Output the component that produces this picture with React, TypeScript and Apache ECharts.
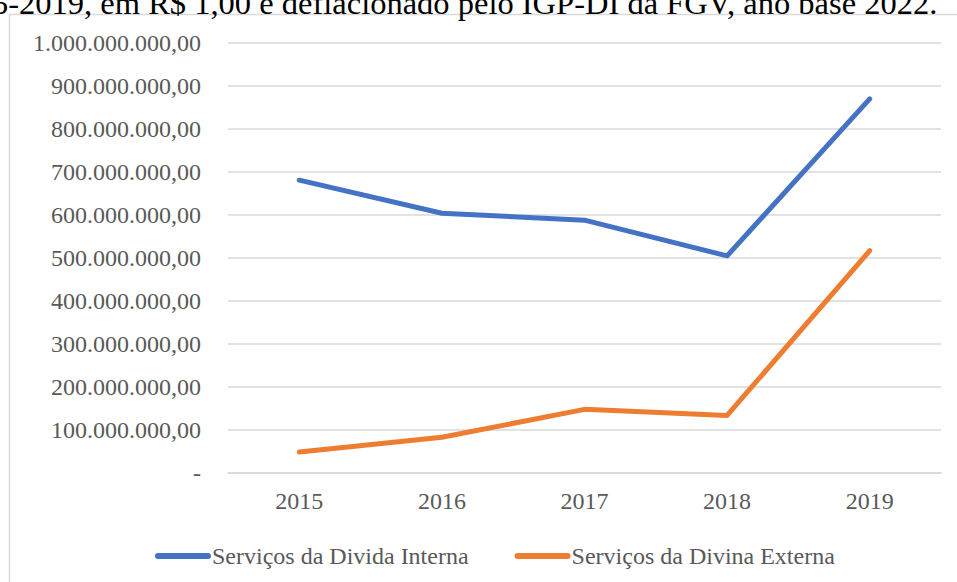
import React, { useEffect, useRef } from "react";
import * as echarts from "echarts";

const categories = ["2015", "2016", "2017", "2018", "2019"];
const internaName = "Serviços da Divida Interna";
const externaName = "Serviços da Divina Externa";
const interna = [681000000, 604000000, 588000000, 505000000, 870000000];
const externa = [49000000, 83000000, 148000000, 134000000, 517000000];
const titleText = "5-2019, em R$ 1,00 e deflacionado pelo IGP-DI da FGV, ano base 2022.";

const FONT = "'Liberation Serif', 'Times New Roman', serif";

function fmt(v: number): string {
  if (v === 0) return "-";
  const s = Math.round(v).toString().replace(/\B(?=(\d{3})+(?!\d))/g, ".");
  return s + ",00";
}

export default function App() {
  const ref = useRef<HTMLDivElement>(null);
  useEffect(() => {
    if (!ref.current) return;
    const chart = echarts.init(ref.current, undefined, { renderer: "svg" });
    chart.setOption({
      animation: false,
      backgroundColor: "#ffffff",
      graphic: [
        {
          type: "rect",
          shape: { x: 9.5, y: 14.5, width: 1000, height: 1000 },
          style: { fill: "none", stroke: "#d9d9d9", lineWidth: 1.5 },
          silent: true,
        },
        {
          type: "text",
          x: -8,
          y: 19,
          style: {
            text: titleText,
            font: `32.5px ${FONT}`,
            fill: "#000000",
            verticalAlign: "bottom",
          },
        },
      ],
      grid: { left: 228, right: 16, top: 43, bottom: 109, containLabel: false },
      legend: {
        left: 150,
        top: 539,
        itemWidth: 56,
        itemHeight: 6,
        itemGap: 46,
        icon: "path://M3,0 L53,0 A3,3 0 0 1 53,6 L3,6 A3,3 0 0 1 3,0 Z",
        textStyle: { fontFamily: FONT, fontSize: 24, color: "#595959", padding: [0, 0, 0, -4] },
        data: [internaName, externaName],
      },
      xAxis: {
        type: "category",
        data: categories,
        boundaryGap: true,
        axisLine: { show: true, lineStyle: { color: "#d9d9d9", width: 1.5 } },
        axisTick: { show: false },
        axisLabel: { fontFamily: FONT, fontSize: 24, color: "#595959", margin: 16 },
      },
      yAxis: {
        type: "value",
        min: 0,
        max: 1000000000,
        interval: 100000000,
        axisLine: { show: false },
        axisTick: { show: false },
        splitLine: { lineStyle: { color: "#d9d9d9", width: 1.5 } },
        axisLabel: {
          fontFamily: FONT,
          fontSize: 24,
          color: "#595959",
          margin: 27,
          formatter: (v: number) => fmt(v),
        },
      },
      series: [
        {
          name: internaName,
          type: "line",
          data: interna,
          symbol: "none",
          color: "#4472C4",
          lineStyle: { width: 5, color: "#4472C4", cap: "round", join: "round" },
        },
        {
          name: externaName,
          type: "line",
          data: externa,
          symbol: "none",
          color: "#ED7D31",
          lineStyle: { width: 5, color: "#ED7D31", cap: "round", join: "round" },
        },
      ],
    });
    return () => chart.dispose();
  }, []);
  return (
    <div
      ref={ref}
      style={{ position: "absolute", left: 0, top: 0, width: 957, height: 582 }}
    />
  );
}
